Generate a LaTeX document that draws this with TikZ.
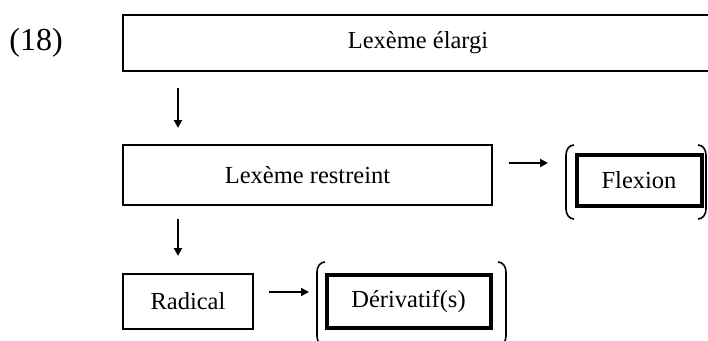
\documentclass[tikz,border=0pt]{standalone}
\usepackage{fontspec}
\setmainfont{Liberation Serif}
\usetikzlibrary{arrows.meta}
\begin{document}
\begin{tikzpicture}[x=1pt,y=-1pt,
  txt/.style={font=\fontsize{24.5}{29}\selectfont},
  thinbox/.style={draw, line width=1.1pt, inner sep=0pt, txt},
  thickbox/.style={draw, line width=4pt, inner sep=0pt, txt},
  arr/.style={line width=2.2pt, -{Triangle[length=8pt,width=8pt]}},
  paren/.style={line width=1.6pt}]
\useasboundingbox (0,0) rectangle (708,340);
% label
\node[font=\fontsize{32}{36}\selectfont] (num) at (36,43) {(18)};
% boxes
\node[thinbox, minimum width=590pt, minimum height=56pt] (elargi) at (418,43) {Lexème élargi};
\node[thinbox, minimum width=369pt, minimum height=60pt] (restreint) at (307.5,175) {Lexème restreint};
\node[thinbox, minimum width=130pt, minimum height=55pt] (radical) at (188,301.5) {Radical};
\node[thickbox, minimum width=125pt, minimum height=51pt] (flexion) at (639,180) {Flexion};
\node[thickbox, minimum width=164pt, minimum height=53pt] (derivatif) at (408.5,301) {Dérivatif(s)};
% arrows
\coordinate (a1s) at (178,88);  \coordinate (a1e) at (178,128);
\coordinate (a2s) at (178,219); \coordinate (a2e) at (178,256);
\coordinate (a3s) at (509,163); \coordinate (a3e) at (548,163);
\coordinate (a4s) at (269,292); \coordinate (a4e) at (309,292);
\draw[arr] (a1s) -- (a1e);
\draw[arr] (a2s) -- (a2e);
\draw[arr] (a3s) -- (a3e);
\draw[arr] (a4s) -- (a4e);
% parentheses around Flexion
\draw[paren] (574,145) to[out=180,in=90] (566,155) -- (566,209) to[out=-90,in=180] (574,219);
\draw[paren] (698,145) to[out=0,in=90] (706,155) -- (706,209) to[out=-90,in=0] (698,219);
% parentheses around Dérivatif(s)
\draw[paren] (325,262) to[out=180,in=90] (317,272) -- (317,336) to[out=-90,in=180] (325,346);
\draw[paren] (498,262) to[out=0,in=90] (506,272) -- (506,336) to[out=-90,in=0] (498,346);
\end{tikzpicture}
\end{document}
